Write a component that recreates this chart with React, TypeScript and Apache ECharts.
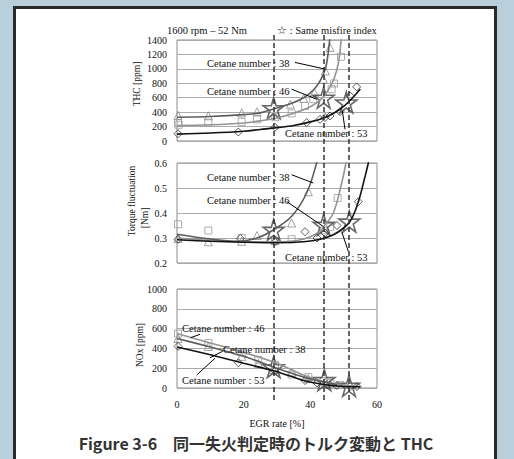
import React, { useEffect, useRef } from "react";
import * as echarts from "echarts";

// ---------- data ----------
const X_TICKS = [0, 20, 40, 60];
const MISFIRE_EGR = [29, 44, 51.5];

// THC [ppm]
const thcTri38 = [[0.3, 355], [9.4, 350], [19.4, 390], [24, 405], [34, 510], [38, 590], [41.2, 672], [43.9, 857], [44.5, 972], [45.9, 1297]];
const thcSq46 = [[0.3, 250], [0.5, 225], [9.4, 255], [19.4, 265], [24, 300], [29.5, 330], [34.4, 383], [38.4, 486], [40.9, 579], [46.4, 718], [47.1, 797], [49.2, 1167]];
const thcDia53 = [[0.3, 100], [18.4, 125], [29.4, 190], [38.9, 255], [42.9, 300], [44.4, 325], [45.9, 347], [48.9, 408], [51.9, 625], [53.9, 750]];
const thcCurve38 = [[0, 330], [10, 340], [20, 365], [25, 390], [29, 445], [34, 515], [38, 600], [41, 710], [43, 840], [44.5, 1000], [45.3, 1200], [45.9, 1450]];
const thcCurve46 = [[0, 215], [10, 225], [20, 250], [25, 280], [30, 320], [35, 385], [40, 475], [43, 570], [45, 680], [47, 850], [48.5, 1100], [49.3, 1450]];
const thcCurve53 = [[0, 95], [10, 110], [20, 135], [25, 160], [30, 185], [35, 215], [40, 265], [44, 320], [47, 385], [50, 480], [52.5, 590], [55, 720]];
const thcStars = [[29, 455], [44, 600], [50.8, 535]];
const thcArrows = [[35.4, 1089, 44.4, 997], [34.4, 718, 41.9, 579], [50.4, 162, 49.6, 417]];

// Torque fluctuation [Nm]
const tqTri38 = [[0.3, 0.298], [9.4, 0.285], [19.4, 0.287], [24, 0.31], [29.4, 0.29], [34.4, 0.36], [39.4, 0.485]];
const tqSq46 = [[0.3, 0.355], [9.4, 0.33], [19.4, 0.3], [29.4, 0.287], [34.4, 0.295], [44, 0.33], [46, 0.345], [48.2, 0.46]];
const tqDia53 = [[0.3, 0.295], [19, 0.298], [29.4, 0.285], [38.4, 0.325], [42, 0.3], [44.4, 0.32], [48, 0.35], [54.4, 0.445]];
const tqCurve38 = [[0, 0.315], [10, 0.296], [18, 0.287], [24, 0.3], [29, 0.333], [34.4, 0.387], [38.9, 0.48], [41.9, 0.6], [42.3, 0.63]];
const tqCurve46 = [[0, 0.3], [10, 0.29], [20, 0.285], [30, 0.285], [36, 0.29], [40, 0.305], [42.9, 0.327], [44, 0.345], [46.9, 0.4], [49.4, 0.52], [50.7, 0.6], [51, 0.63]];
const tqCurve53 = [[0, 0.293], [10, 0.287], [20, 0.283], [30, 0.281], [38, 0.285], [43, 0.295], [46.9, 0.313], [50, 0.34], [51.9, 0.366], [53.5, 0.41], [54.9, 0.467], [56.3, 0.54], [57.4, 0.6], [57.8, 0.63]];
const tqStars = [[29, 0.333], [44, 0.353], [51.7, 0.366]];
const tqArrows = [[34.4, 0.553, 40.9, 0.52], [32.9, 0.446, 43.9, 0.346], [51.4, 0.246, 49.4, 0.326]];

// NOx [ppm]
const noxTri38 = [[0.3, 500], [9.4, 420], [19.4, 320], [24.4, 250], [29, 185], [34.4, 160], [39.4, 95], [44.4, 60], [46, 40]];
const noxSq46 = [[0.3, 550], [9.4, 455], [19.4, 360], [24.4, 285], [29.4, 235], [34.4, 135], [39.4, 110], [44, 70], [46, 50], [49, 30]];
const noxDia53 = [[0.3, 420], [18.4, 255], [29.4, 170], [38.4, 75], [42, 50], [45, 35], [48, 25], [51.9, 15], [54, 15]];
const noxLine38 = [[0, 500], [10, 415], [20, 320], [30, 200], [38, 110], [44, 60], [48, 35]];
const noxLine46 = [[0, 550], [10, 455], [20, 360], [30, 250], [38, 130], [44, 65], [50, 30], [54, 15]];
const noxLine53 = [[0, 415], [10, 335], [20, 250], [30, 165], [38, 75], [44, 35], [50, 15], [55, 12]];
const noxStars = [[29, 210], [44.2, 80], [51.6, 22]];
const noxArrows = [[6.9, 542, 4.1, 508], [13.7, 371, 9.9, 306], [5.9, 131, 11.4, 300]];

const SERIF = '"Liberation Serif", "Times New Roman", serif';
const STAR = "path://M50,0 L61,35 L98,35 L68,57 L79,91 L50,70 L21,91 L32,57 L2,35 L39,35 Z";

const C38 = "#5c5c5c";
const C46 = "#939393";
const C53 = "#111111";

function panelSeries(i: number, c38: number[][], c46: number[][], c53: number[][], t38: number[][], s46: number[][], d53: number[][], stars: number[][], arrows: number[][], smooth: number | boolean) {
  const base = { xAxisIndex: i, yAxisIndex: i, silent: true };
  const line = (data: number[][], color: string, extra: any = {}) => ({
    ...base, type: "line", data, smooth, showSymbol: false, symbol: "none",
    lineStyle: { color, width: 1.6 }, clip: true, ...extra,
  });
  const sc = (data: number[][], symbol: string, size: number, color: string) => ({
    ...base, type: "scatter", data, symbol, symbolSize: size,
    itemStyle: { color: "rgba(255,255,255,0)", borderColor: color, borderWidth: 1 },
  });
  return [
    line(c46, C46),
    line(c38, C38),
    line(c53, C53, {
      markLine: {
        silent: true, symbol: ["none", "arrow"], symbolSize: [0, 7], animation: false,
        label: { show: false },
        lineStyle: { color: "#000", width: 1, type: "solid" },
        data: arrows.map((a) => [{ coord: [a[0], a[1]] }, { coord: [a[2], a[3]] }]),
      },
    }),
    sc(t38, "triangle", 8, "#8a8a8a"),
    sc(s46, "rect", 7, "#9a9a9a"),
    sc(d53, "diamond", 8, "#333"),
    {
      ...base, type: "scatter", data: stars, symbol: STAR, symbolSize: 21,
      itemStyle: { color: "rgba(255,255,255,0)", borderColor: "#444", borderWidth: 1.6 },
    },
  ];
}

export default function App() {
  const ref = useRef<HTMLDivElement>(null);
  useEffect(() => {
    if (!ref.current) return;
    const chart = echarts.init(ref.current, null, { renderer: "svg" });
    const gridBase = { left: 177, width: 200, show: true, borderColor: "#8c8c8c", borderWidth: 1, backgroundColor: "transparent" };
    const yBase = (min: number, max: number, interval: number, fmt: (v: number) => string) => ({
      type: "value", min, max, interval,
      axisLine: { show: false }, axisTick: { show: false },
      splitLine: { show: true, lineStyle: { color: "#aaaaaa", width: 1 } },
      axisLabel: { fontFamily: SERIF, fontSize: 10, color: "#111", margin: 10, formatter: fmt },
    });
    const txt = (text: string, x: number, y: number, extra: any = {}) => ({
      type: "text", x, y, silent: true, z: 100,
      style: { text, fill: "#111", font: `10.5px ${SERIF}`, textAlign: "left", textVerticalAlign: "middle", ...extra },
    });
    const vtxt = (text: string, x: number, y: number) => ({
      type: "text", x, y, rotation: Math.PI / 2, silent: true,
      style: { text, fill: "#111", font: `9.5px ${SERIF}`, textAlign: "center", textVerticalAlign: "middle" },
    });
    const intFmt = (v: number) => String(Math.round(v));

    const option: any = {
      animation: false,
      grid: [
        { ...gridBase, top: 40, height: 101 },
        { ...gridBase, top: 163, height: 100 },
        { ...gridBase, top: 289, height: 99 },
        { left: 177, width: 200, top: 35, height: 365, show: false },
      ],
      xAxis: [0, 1, 2, 3].map((i) => ({
        type: "value", gridIndex: i, min: 0, max: 60, interval: 20,
        axisLine: { show: false }, axisTick: { show: false }, splitLine: { show: false },
        axisLabel: {
          show: i === 2, margin: 11, fontFamily: SERIF, fontSize: 10, color: "#111",
          formatter: (v: number) => (X_TICKS.includes(v) ? String(v) : ""),
        },
      })),
      yAxis: [
        { ...yBase(0, 1400, 200, intFmt), gridIndex: 0 },
        { ...yBase(0.2, 0.6, 0.1, (v: number) => v.toFixed(1)), gridIndex: 1 },
        { ...yBase(0, 1000, 200, intFmt), gridIndex: 2 },
        { type: "value", gridIndex: 3, min: 0, max: 1, show: false },
      ],
      series: [
        ...panelSeries(0, thcCurve38, thcCurve46, thcCurve53, thcTri38, thcSq46, thcDia53, thcStars, thcArrows, 0.35),
        ...panelSeries(1, tqCurve38, tqCurve46, tqCurve53, tqTri38, tqSq46, tqDia53, tqStars, tqArrows, 0.35),
        ...panelSeries(2, noxLine38, noxLine46, noxLine53, noxTri38, noxSq46, noxDia53, noxStars, noxArrows, 0.2),
        {
          type: "line", xAxisIndex: 3, yAxisIndex: 3, data: [], silent: true,
          markLine: {
            silent: true, symbol: "none", animation: false, label: { show: false },
            lineStyle: { color: "#333", width: 1.5, type: [5, 3] },
            data: MISFIRE_EGR.map((x) => ({ xAxis: x })),
          },
        },
      ],
      graphic: [
        txt("1600 rpm \u2013 52 Nm", 167, 30),
        txt("\u2606 : Same misfire index", 277, 30),
        txt("Cetane number : 38", 207, 63),
        txt("Cetane number : 46", 207, 91),
        txt("Cetane number : 53", 285, 133),
        txt("Cetane number : 38", 207, 177),
        txt("Cetane number : 46", 207, 200),
        txt("Cetane number : 53", 285, 257),
        txt("Cetane number : 46", 182, 328),
        txt("Cetane number : 38", 223, 349),
        txt("Cetane number : 53", 182, 380),
        txt("EGR rate [%]", 277, 423, { textAlign: "center", font: `10px ${SERIF}` }),
        vtxt("THC [ppm]", 137, 84),
        vtxt("Torque fluctuation", 132, 201),
        vtxt("[Nm]", 145, 218),
        vtxt("NOx [ppm]", 140, 345),
        {
          type: "text", x: 256, y: 443, silent: true,
          style: {
            text: "Figure 3-6\u3000同一失火判定時のトルク変動と THC",
            fill: "#333", font: `bold 16px "Noto Sans CJK JP", "Noto Sans", sans-serif`,
            textAlign: "center", textVerticalAlign: "middle",
          },
        },
      ],
    };
    chart.setOption(option);
    return () => chart.dispose();
  }, []);

  return (
    <div style={{ position: "absolute", left: 0, top: 0, width: 514, height: 459, background: "#b9cfdb", overflow: "hidden" }}>
      <div style={{ position: "absolute", left: 13, top: 6, width: 478, height: 460, border: "3px solid #2a2a2a", background: "#fff" }} />
      <div ref={ref} style={{ position: "absolute", left: 0, top: 0, width: 514, height: 459 }} />
    </div>
  );
}
